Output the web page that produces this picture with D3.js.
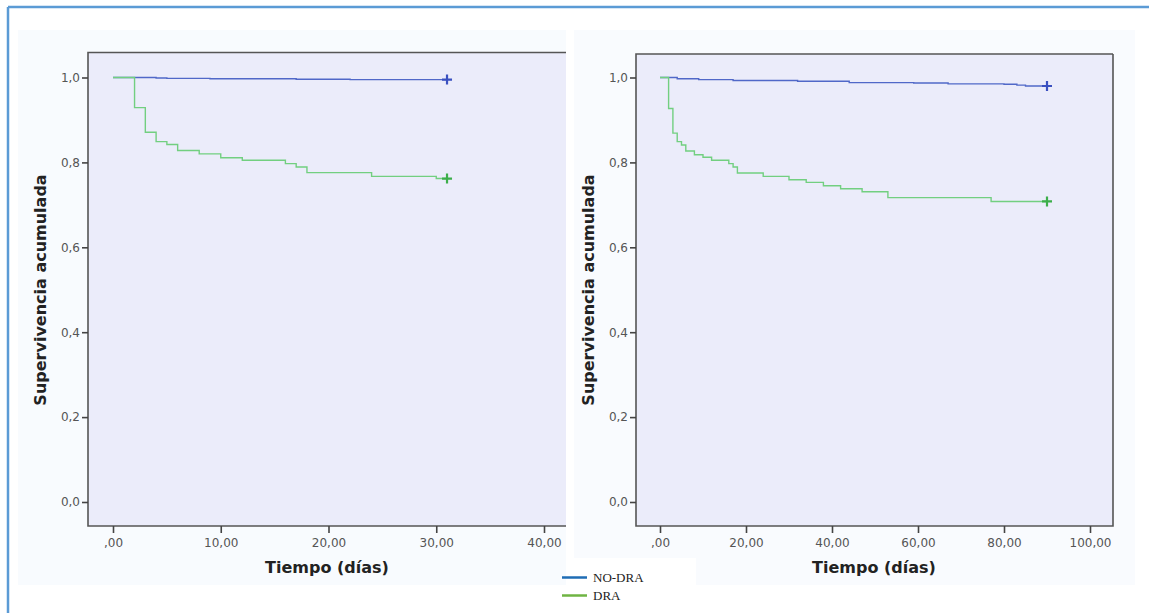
<!DOCTYPE html>
<html>

<head>
    <script src="https://d3js.org/d3.v7.min.js"></script>
    <title>Supervivencia acumulada</title>
    <style>
        body {
            margin: 0;
            background-color: #ffffff;
            font-family: 'DejaVu Sans', sans-serif;
        }
    </style>
</head>

<body>
    <svg id="chart" width="1149" height="613"></svg>

    <script>
        // tick values
        var yTicks = [0, 0.2, 0.4, 0.6, 0.8, 1.0];
        var leftXTicks = [0, 10, 20, 30, 40];
        var rightXTicks = [0, 20, 40, 60, 80, 100];

        // left panel (30 days)
        var leftNoDraTime = [0, 4, 5, 9, 17, 22, 31];
        var leftNoDraSurv = [1, 0.999, 0.998, 0.997, 0.996, 0.995, 0.995];
        var leftDraTime = [0, 2, 3, 4, 5, 6, 8, 10, 12, 16, 17, 18, 24, 30, 31];
        var leftDraSurv = [1, 0.929, 0.871, 0.849, 0.842, 0.828, 0.820, 0.811, 0.805, 0.797, 0.789, 0.776, 0.767, 0.762, 0.762];

        // right panel (90 days)
        var rightNoDraTime = [0, 4, 9, 17, 32, 44, 59, 67, 80, 83, 85, 90];
        var rightNoDraSurv = [1, 0.997, 0.995, 0.993, 0.991, 0.988, 0.987, 0.985, 0.984, 0.982, 0.980, 0.980];
        var rightDraTime = [0, 2, 3, 4, 5, 6, 8, 10, 12, 16, 17, 18, 24, 30, 34, 38, 42, 47, 53, 77, 90];
        var rightDraSurv = [1, 0.927, 0.869, 0.849, 0.841, 0.827, 0.818, 0.812, 0.805, 0.797, 0.789, 0.775, 0.767, 0.759, 0.753, 0.745, 0.738, 0.731, 0.717, 0.708, 0.708];

        var legendNames = ["NO-DRA", "DRA"];
        var legendColors = ["#1f6db5", "#6fb443"];

        var blueLine = "#5068c8";
        var blueMark = "#3a50c0";
        var greenLine = "#72cf80";
        var greenMark = "#3cae4a";

        var svg = d3.select("#chart");

        // outer frame (only top and left are visible)
        svg.append("line")
            .attr("x1", 8).attr("y1", 7).attr("x2", 1149).attr("y2", 7)
            .style("stroke", "#5b9bd5").style("stroke-width", 2.5);
        svg.append("line")
            .attr("x1", 8).attr("y1", 7).attr("x2", 8).attr("y2", 613)
            .style("stroke", "#5b9bd5").style("stroke-width", 2.5);

        // pale backgrounds of the two pasted images
        svg.append("rect")
            .attr("x", 18).attr("y", 30).attr("width", 548).attr("height", 555)
            .style("fill", "#f8fbfe");
        svg.append("rect")
            .attr("x", 574).attr("y", 30).attr("width", 561).attr("height", 555)
            .style("fill", "#f9fbfe");

        function drawPanel(p) {
            var x = d3.scaleLinear().domain(p.xDomain).range(p.xRange);
            var y = d3.scaleLinear().domain([0, 1]).range([502, 77.5]);

            var g = svg.append("g");

            g.append("rect")
                .attr("x", p.left).attr("y", p.top)
                .attr("width", p.right - p.left).attr("height", 526 - p.top)
                .style("fill", "#ebecfa");

            // frame of plot area
            var frame = "M" + p.right + "," + p.top + "H" + p.left + "V526H" + p.right;
            if (p.closed) frame += "V" + p.top;
            g.append("path")
                .attr("d", frame)
                .style("fill", "none")
                .style("stroke", "#555555")
                .style("stroke-width", 1.6);

            var yAxis = d3.axisLeft(y)
                .tickValues(yTicks)
                .tickSize(6)
                .tickPadding(2)
                .tickFormat(function (d) {
                    return d3.format(".1f")(d).replace(".", ",");
                });
            var xAxis = d3.axisBottom(x)
                .tickValues(p.xTicks)
                .tickSize(7)
                .tickPadding(5)
                .tickFormat(function (d) {
                    var s = d3.format(".2f")(d).replace(".", ",");
                    return d === 0 ? ",00" : s;
                });

            var ya = g.append("g")
                .attr("transform", "translate(" + p.left + ",0)")
                .call(yAxis);
            var xa = g.append("g")
                .attr("transform", "translate(0,526)")
                .call(xAxis);
            [ya, xa].forEach(function (a) {
                a.select(".domain").remove();
                a.selectAll("line").style("stroke", "#444").style("stroke-width", 1.6);
                a.selectAll("text")
                    .style("font-family", "'DejaVu Sans', sans-serif")
                    .style("font-size", "12px")
                    .style("fill", "#555");
            });

            var line = d3.line()
                .x(function (d) { return x(d[0]); })
                .y(function (d) { return y(d[1]); })
                .curve(d3.curveStepAfter);

            p.series.forEach(function (s) {
                var pts = d3.zip(s.time, s.surv);
                g.append("path")
                    .datum(pts)
                    .attr("d", line)
                    .style("fill", "none")
                    .style("stroke", s.color)
                    .style("stroke-width", 1.4);
                var last = pts[pts.length - 1];
                var cx = x(last[0]), cy = y(last[1]);
                g.append("path")
                    .attr("d", "M" + (cx - 5) + "," + cy + "H" + (cx + 5) + "M" + cx + "," + (cy - 5) + "V" + (cy + 5))
                    .style("stroke", s.mark)
                    .style("stroke-width", 2.2);
            });

            g.append("text")
                .attr("transform", "translate(" + p.yLabelX + ",290) rotate(-90)")
                .attr("text-anchor", "middle")
                .style("font-family", "'DejaVu Sans', sans-serif")
                .style("font-weight", "bold")
                .style("font-size", "16px")
                .style("fill", "#222")
                .text("Supervivencia acumulada");

            g.append("text")
                .attr("x", p.xLabelX).attr("y", 573)
                .attr("text-anchor", "middle")
                .style("font-family", "'DejaVu Sans', sans-serif")
                .style("font-weight", "bold")
                .style("font-size", "16px")
                .style("fill", "#222")
                .text("Tiempo (días)");
        }

        drawPanel({
            left: 88, right: 566, top: 52.5, closed: false,
            xDomain: [0, 40], xRange: [113, 544], xTicks: leftXTicks,
            yLabelX: 46, xLabelX: 327,
            series: [
                { time: leftNoDraTime, surv: leftNoDraSurv, color: blueLine, mark: blueMark },
                { time: leftDraTime, surv: leftDraSurv, color: greenLine, mark: greenMark }
            ]
        });

        drawPanel({
            left: 636, right: 1113, top: 54, closed: true,
            xDomain: [0, 100], xRange: [660, 1090], xTicks: rightXTicks,
            yLabelX: 594, xLabelX: 874,
            series: [
                { time: rightNoDraTime, surv: rightNoDraSurv, color: blueLine, mark: blueMark },
                { time: rightDraTime, surv: rightDraSurv, color: greenLine, mark: greenMark }
            ]
        });

        // legend
        var legend = svg.append("g");
        legend.append("rect")
            .attr("x", 566).attr("y", 558).attr("width", 130).attr("height", 55)
            .style("fill", "#ffffff");
        legendNames.forEach(function (name, i) {
            var ly = 577.5 + i * 18;
            legend.append("line")
                .attr("x1", 562).attr("x2", 587)
                .attr("y1", ly).attr("y2", ly)
                .style("stroke", legendColors[i])
                .style("stroke-width", 2.5);
            legend.append("text")
                .attr("x", 593).attr("y", ly + 4.5)
                .style("font-family", "'Liberation Serif', serif")
                .style("font-size", "13px")
                .style("fill", "#222")
                .text(name);
        });
    </script>
</body>
</html>
